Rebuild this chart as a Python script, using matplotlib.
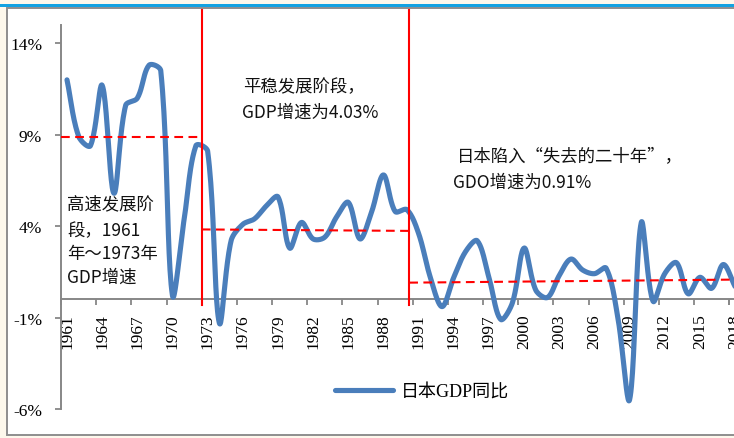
import numpy as np
import matplotlib
matplotlib.use('Agg')
import matplotlib.pyplot as plt
from matplotlib.patches import Rectangle
from matplotlib.ticker import FixedLocator

# ---------------- data ----------------
years = list(range(1961, 2019))
gdp = [12.0, 8.9, 8.4, 11.7, 5.8, 10.6, 11.0, 12.8, 12.5, 0.2,
       4.4, 8.4, 8.1, -1.3, 3.2, 4.1, 4.4, 5.1, 5.6, 2.8,
       4.2, 3.3, 3.4, 4.5, 5.3, 3.3, 4.8, 6.8, 4.8, 4.9,
       3.6, 1.2, -0.4, 1.2, 2.6, 3.2, 1.2, -1.1, -0.2, 2.8,
       0.5, 0.1, 1.3, 2.2, 1.6, 1.4, 1.7, -1.0, -5.5, 4.2,
       -0.1, 1.4, 2.0, 0.3, 1.2, 0.6, 1.9, 0.7]
series_name = "日本GDP同比"
ytick_vals = [-6, -1, 4, 9, 14]
ytick_labels = ["-6%", "-1%", "4%", "9%", "14%"]
xlabel_years = list(range(1961, 2019, 3))

# period separators and average lines (x0, x1, y0, y1)
stage_breaks = [1972.5, 1990.2]
avg_lines = [(1960.5, 1972.5, 8.85, 8.85),
             (1972.5, 1990.2, 3.82, 3.74),
             (1990.2, 2018.5, 0.91, 1.08)]

notes = [
    ("平稳发展阶段，", 242.7, 86.7),
    ("GDP增速为4.03%", 241.7, 112.7),
    ("日本陷入“失去的二十年”，", 456.7, 156.7),
    ("GDO增速为0.91%", 453.0, 182.7),
    ("高速发展阶", 67.3, 204.3),
    ("段，1961", 67.3, 230.7),
    ("年～1973年", 67.3, 254.3),
    ("GDP增速", 67.3, 277.3),
]

W, H = 734, 439
px_per_year = 11.72
px_per_pct = 18.29


# ---------------- helpers ----------------
def smooth_curve(x, y, n=24):
    """Excel-like smoothed line: cubic Bezier through the points with
    chord-length weighted tangents (computed in screen proportions)."""
    p = np.column_stack([np.asarray(x, float) * px_per_year,
                         np.asarray(y, float) * px_per_pct])
    out = []
    m = len(p)
    t = np.linspace(0, 1, n)[:, None]
    for i in range(m - 1):
        p0 = p[i - 1] if i > 0 else p[i]
        p1 = p[i]
        p2 = p[i + 1]
        p3 = p[i + 2] if i + 2 < m else p[i + 1]
        d01 = np.hypot(*(p1 - p0))
        d12 = np.hypot(*(p2 - p1))
        d23 = np.hypot(*(p3 - p2))
        f1 = d12 / (d01 + d12) / 3.0 if d01 + d12 > 0 else 0
        f2 = d12 / (d12 + d23) / 3.0 if d12 + d23 > 0 else 0
        c1 = p1 + (p2 - p0) * f1
        c2 = p2 - (p3 - p1) * f2
        seg = ((1 - t) ** 3) * p1 + 3 * ((1 - t) ** 2) * t * c1 + 3 * (1 - t) * t ** 2 * c2 + t ** 3 * p2
        out.append(seg if i == 0 else seg[1:])
    s = np.vstack(out)
    return s[:, 0] / px_per_year, s[:, 1] / px_per_pct


cream = '#FDF8EC'
grey = '#878787'
blue = '#4A7EBB'
red = '#FF0000'

fig = plt.figure(figsize=(W / 100, H / 100), dpi=100, facecolor=cream)

# top blue strip and chart area frame (behind the axes)
fig.patches.append(Rectangle((0, 1 - 7.6 / H), 1, 2.6 / H, transform=fig.transFigure,
                             facecolor='#12A2E2', edgecolor='none', zorder=-2))
fig.patches.append(Rectangle((6.5 / W, 1 - 435.5 / H), 1.2, (435.5 - 9.2) / H,
                             transform=fig.transFigure, facecolor='white',
                             edgecolor='#8E8E8E', linewidth=1.4, zorder=-2))

# axes: x 1960.5 at px 61.5 ; y 15% at px 26, -6% at px 410
x_left_px = 67 - 0.5 * px_per_year
x_right_px = 67 + 57.5 * px_per_year
top_px, bot_px = 26.0, 410.0
ax = fig.add_axes([x_left_px / W, 1 - bot_px / H,
                   (x_right_px - x_left_px) / W, (bot_px - top_px) / H])
ax.set_zorder(1)
ax.set_facecolor('none')
ax.set_xlim(1960.5, 2018.5)
ax.set_ylim(-6, 15)

sx, sy = smooth_curve(years, gdp)
ax.plot(sx, sy, color=blue, lw=3.7, solid_capstyle='round', solid_joinstyle='round',
        label=series_name, zorder=3)

# spines
for s in ['top', 'right']:
    ax.spines[s].set_visible(False)
ax.spines['left'].set_color(grey)
ax.spines['left'].set_linewidth(1.4)
ax.spines['bottom'].set_position(('data', 0))
ax.spines['bottom'].set_color(grey)
ax.spines['bottom'].set_linewidth(1.4)

# y ticks
ax.set_yticks(ytick_vals)
ax.set_yticklabels(ytick_labels, fontfamily='Liberation Serif', fontsize=12.5)
ax.tick_params(axis='y', direction='out', length=4.2, width=1.3, color=grey, pad=9.5)

# x ticks: labels at category centres, tick marks between categories
ax.set_xticks(xlabel_years)
ax.set_xticklabels([str(v) for v in xlabel_years], rotation=90,
                   fontfamily='Liberation Serif', fontsize=12.5, va='top')
ax.tick_params(axis='x', which='major', length=0, pad=10)
ax.xaxis.set_minor_locator(FixedLocator([v - 0.5 for v in xlabel_years] + [2017.5]))
ax.tick_params(axis='x', which='minor', direction='out', length=4.2, width=1.3, color=grey)

# stage separators
for xb in stage_breaks:
    ax.plot([xb, xb], [-0.33, 15.8], color=red, lw=1.5, clip_on=False, zorder=5)
for x0, x1, y0, y1 in avg_lines:
    ax.plot([x0, x1], [y0, y1], color=red, lw=1.5, dashes=(4.2, 2.6), zorder=5)

# annotations
for txt, xp, yp in notes:
    fig.text(xp / W, 1 - yp / H, txt, ha='left', va='center', fontsize=12.5,
             family=['Noto Sans CJK SC', 'DejaVu Sans'], color='#111111', zorder=5)

# legend
leg = ax.legend(loc='center left', bbox_to_anchor=(335 / W, 1 - 392.7 / H),
                bbox_transform=fig.transFigure, frameon=False, borderpad=0,
                borderaxespad=0, handlelength=3.2, handletextpad=0.45,
                prop={'family': ['Liberation Serif', 'Noto Sans CJK SC'], 'size': 13})

fig.savefig('out.png', dpi=100, facecolor=cream)
